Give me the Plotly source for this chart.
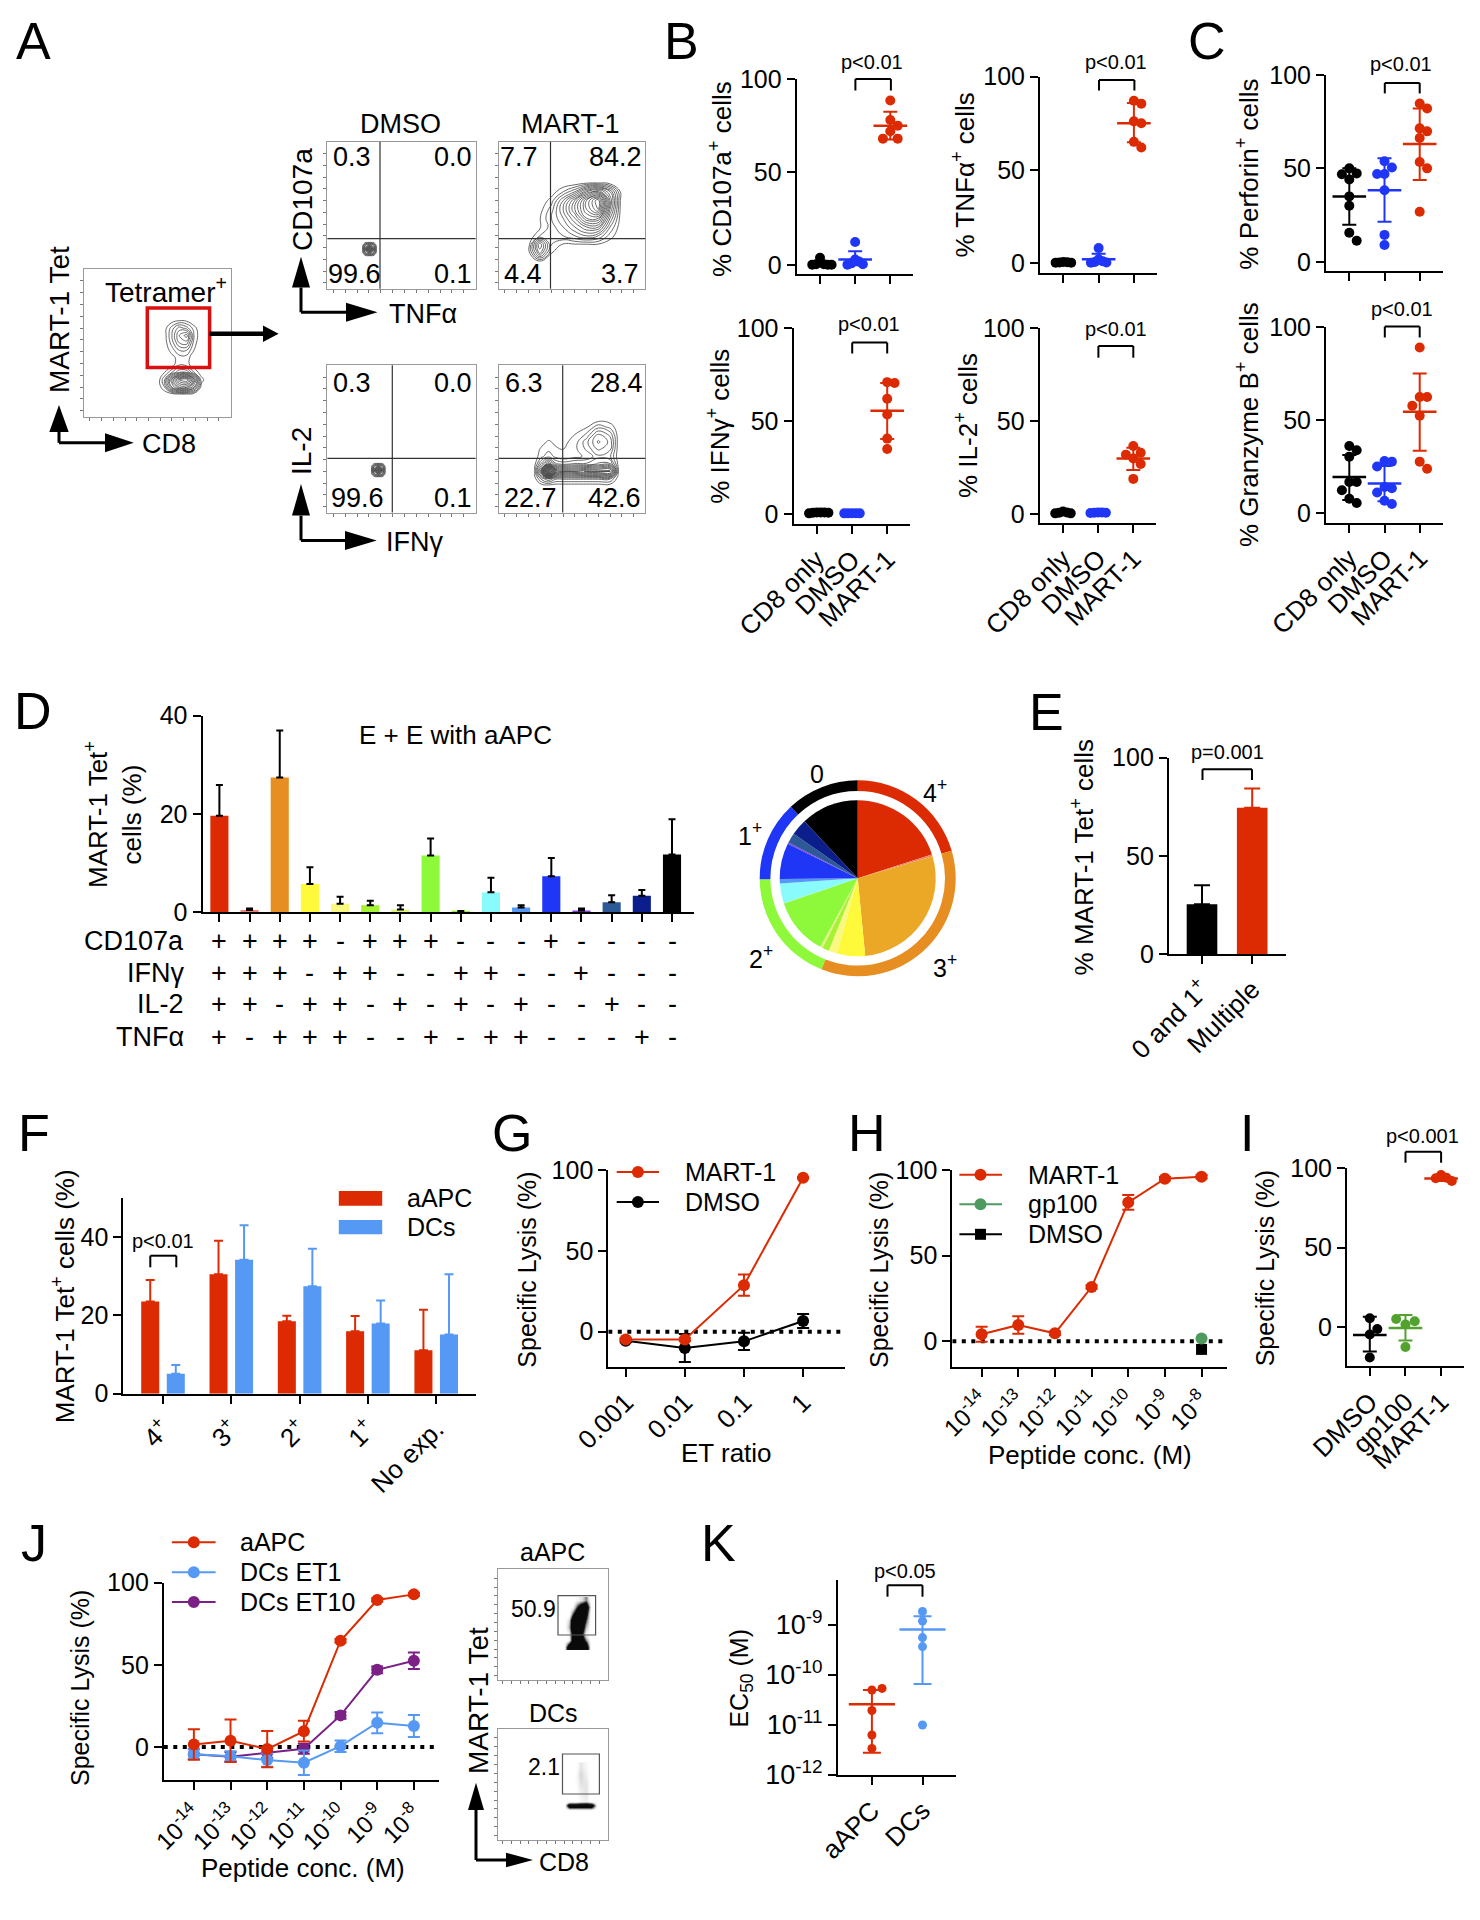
import math
import plotly.graph_objects as go

W, H = 1480, 1920
FONT = "Liberation Sans"
RED, BLUE, BLK = "#DC2B02", "#2036F7", "#000000"
SKY, PUR, GRN, LGRN = "#5599F5", "#7B2185", "#4E9A5F", "#52A22E"

# ---- B / C dot plots
CATS = ["CD8 only", "DMSO", "MART-1"]
b1_black = [4, 0.5, 0.5, 0.3, 0.3, 0.2]
b1_blue = [12.5, 3, 2, 1, 0.5, 0.3]
b1_red = [88.5, 78, 75, 72, 68, 68]
b2_black = [0.5, 0.4, 0.3, 0.2, 0.2]
b2_blue = [8, 2, 1, 0.5, 0.3, 0.2]
b2_red = [87, 85.5, 76, 75, 65, 62]
b3_black = [1, 1, 0.8, 1, 0.5, 0.8]
b3_blue = [0.6, 0.6, 0.5, 0.5, 0.5]
b3_red = [70.9, 70.4, 62, 53.5, 40.6, 35]
b4_black = [1.5, 1, 0.8, 0.5, 0.5]
b4_blue = [1, 1, 0.8, 0.8, 0.7]
b4_red = [36.6, 33, 32, 30, 27, 19]
c1_black = [50, 47.3, 46.8, 44, 35, 30, 15.5, 11.3]
c1_blue = [53.8, 50.5, 47, 47, 38.3, 14.4, 9]
c1_red = [84.7, 82, 71.4, 69.8, 66.2, 53.4, 50, 26.8]
c2_black = [36, 33.7, 30.3, 16.7, 16.7, 12.2, 7.7, 5.4]
c2_blue = [28, 27.6, 25, 14, 13.3, 11, 6.6, 4.8]
c2_red = [89, 62.4, 62.4, 57.7, 52.3, 27.6, 23.8]

# ---- D / pie
d_values = [19.6, 0.4, 27.4, 5.7, 1.7, 1.4, 0.5, 11.5, 0.1, 4, 0.9, 7.3, 0.3, 2, 3.3, 11.7]
d_tops = [25.9, 0.7, 37, 9.1, 3.1, 2.3, 1.4, 15, 0.2, 7, 1.4, 11, 0.7, 3.4, 4.5, 18.9]
d_colors = ["#DC2B02", "#F08070", "#E68E22", "#FFF93C", "#F9F880", "#A6F237", "#DDF57A", "#8DF93A",
            "#97F03A", "#8AFBFD", "#5698F5", "#2036F7", "#8040E0", "#2D5A96", "#0C1E8C", "#000000"]
pie_colors = ["#DC2B02", "#F08070", "#EBA827", "#FFF93C", "#F9F880", "#A6F237", "#DDF57A", "#8DF93A",
              "#97F03A", "#8AFBFD", "#5698F5", "#2036F7", "#8040E0", "#2D5A96", "#0C1E8C", "#000000"]
ring_values = [20, 34.8, 18.4, 12.9, 11.7]
ring_colors = ["#DC2B02", "#E68E22", "#8DF93A", "#2036F7", "#000000"]
d_rows = {"CD107a": "++++-+++--" + "-+----",
          "IFN\u03b3": "+++-++--++" + "--+---",
          "IL-2": "++-++-+-+-" + "+--+--",
          "TNF\u03b1": "+-+++--+-+" + "+---+-"}

# ---- E
e_cats = ["0 and 1<sup>+</sup>", "Multiple"]
e_vals = [25.3, 74.5]
e_tops = [35, 84.3]

# ---- F
f_cats = ["4<sup>+</sup>", "3<sup>+</sup>", "2<sup>+</sup>", "1<sup>+</sup>", "No exp."]
f_aapc = [23.5, 30.5, 18.5, 15.9, 11.1]
f_aapc_top = [29, 39, 19.9, 19.8, 21.4]
f_dcs = [5.1, 34.2, 27.4, 17.9, 15.1]
f_dcs_top = [7.3, 43, 37, 23.8, 30.5]

# ---- G
g_x = [0.001, 0.01, 0.1, 1]
g_mart = [-4.8, -4.8, 28.8, 95.4]
g_mart_err = [1, 1, 6.6, 0.5]
g_dmso = [-5.6, -10.1, -6, 6.6]
g_dmso_err = [1, 8.7, 5.4, 4.4]

# ---- H / J
conc = [1e-14, 1e-13, 1e-12, 1e-11, 1e-10, 1e-9, 1e-8]
conc_lbl = ["10<sup>-14</sup>", "10<sup>-13</sup>", "10<sup>-12</sup>", "10<sup>-11</sup>",
            "10<sup>-10</sup>", "10<sup>-9</sup>", "10<sup>-8</sup>"]
h_mart = [4.1, 9.5, 4.7, 31.7, 81.1, 94.9, 96.1]
h_mart_err = [4.4, 5.1, 1, 1, 4.3, 1, 1]
h_gp100 = [1.6]
h_dmso = [-4.7]
j_aapc = [1.6, 3.9, -1.2, 9.7, 64.7, 89.5, 92.9]
j_aapc_err = [9.3, 12.9, 11, 6.3, 1, 1, 1]
j_et1 = [-4.3, -5.5, -7.9, -9.5, 0.6, 14.8, 12.8]
j_et1_err = [3, 3, 4, 7.5, 3.5, 6.3, 6.7]
j_et10 = [-4.3, -5.9, -3.4, -1, 19.3, 47, 52.5]
j_et10_err = [3, 3, 3, 3, 2, 2, 5]

# ---- I
i_cats = ["DMSO", "gp100", "MART-1"]
i_black = [5.5, -4.8, -1.3, -19.3]
i_green = [1.5, 3.6, 5, -12.6]
i_red = [95.8, 94, 93.7, 92]

# ---- K
k_cats = ["aAPC", "DCs"]
k_aapc = [5e-11, 5.4e-11, 1.95e-11, 6.3e-12, 3.4e-12]
k_dcs = [1.86e-9, 1.2e-9, 5.6e-10, 3.7e-10, 1e-11]

# ---- flow density grids
fa_x = [50, 55, 60, 65, 70, 75, 80, 85]
fa_y = [10, 15, 20, 25, 30, 35, 40, 45, 50, 55, 60, 65, 70]
fa_z = [[0, 0, 0, 0, 0, 0, 0, 0], [0, 0, 0, 0.3, 0.3, 0, 0, 0], [0, 2, 7, 10, 10, 6, 0.5, 0],
        [0, 3, 9, 14, 15, 9, 1.5, 0], [0, 1, 3, 5, 5, 2, 0.3, 0], [0, 0, 0.5, 2, 1.5, 0.3, 0, 0],
        [0, 0, 0.6, 1.5, 1.5, 0.3, 0, 0], [0, 0.2, 1.5, 3, 3, 1, 0, 0], [0, 0.4, 2.5, 5, 5.5, 1.5, 0, 0],
        [0, 0.5, 3, 6, 7.5, 2, 0, 0], [0, 0.5, 2.5, 4.5, 3.5, 1.5, 0, 0], [0, 0, 0.5, 1, 0.8, 0, 0, 0],
        [0, 0, 0, 0, 0, 0, 0, 0]]
dot_x1 = [23.4, 25.9, 28.4, 30.9, 33.4]
dot_y1 = [22, 24.5, 27, 29.5, 32]
dot_x2 = [29.4, 31.9, 34.4, 36.9, 39.4]
dot_y2 = [23.9, 26.4, 28.9, 31.4, 33.9]
dot_z = [[0, 0, 0, 0, 0], [0, 5, 7, 5, 0], [0, 7, 16, 7, 0], [0, 5, 7, 5, 0], [0, 0, 0, 0, 0]]
fm1_x = [20, 28, 36, 44, 52, 60, 68, 76, 84]
fm1_y = [18, 24, 30, 36, 42, 48, 54, 60, 66, 72, 78]
fm1_z = [[0, 0.2, 0, 0, 0, 0, 0, 0, 0], [0, 6, 1, 0, 0, 0, 0, 0, 0], [0, 8, 2, 0.8, 0.8, 0.8, 0.8, 0.3, 0],
         [0, 2, 2.5, 3, 4, 5, 4, 1.5, 0], [0, 0.8, 2.5, 4, 6, 8, 8, 3, 0], [0, 0.9, 3, 5, 8, 12, 12, 5, 0],
         [0, 0.5, 2.5, 6, 10, 14, 17, 7, 0], [0, 0, 1.5, 5, 9, 14, 18, 8, 0], [0, 0, 0.3, 2, 4, 8, 10, 6, 0.3],
         [0, 0, 0, 0, 0.2, 0.8, 0.9, 0.4, 0], [0, 0, 0, 0, 0, 0, 0, 0, 0]]
fm2_x = [24, 29, 34, 39, 44, 52, 60, 68, 76, 82]
fm2_y = [18, 23, 28, 33, 38, 43, 48, 53, 58, 63, 68]
fm2_z = [[0, 0, 0, 0, 0, 0, 0, 0, 0, 0], [0, 3, 5, 3, 3, 3, 3, 3, 3, 0], [0.5, 8, 25, 12, 11, 11, 12, 12, 12, 0.5],
         [0, 4, 8, 4, 3.5, 4, 4, 5, 5, 0.2], [0, 1.5, 2.5, 1.5, 1, 1.5, 2, 3.5, 3, 0],
         [0, 1, 1.5, 1, 0.8, 1.5, 3, 5, 4, 0], [0, 0.3, 1, 0.5, 0.5, 1.2, 3.5, 6, 4.5, 0],
         [0, 0, 0, 0, 0.2, 0.8, 2, 5, 3.5, 0], [0, 0, 0, 0, 0, 0.1, 0.7, 2.5, 1.5, 0],
         [0, 0, 0, 0, 0, 0, 0, 0.3, 0.2, 0], [0, 0, 0, 0, 0, 0, 0, 0, 0, 0]]
ja_x = [60, 64, 68, 72, 76, 80, 84]
ja_y = [30, 36, 42, 48, 54, 60, 66, 72]
ja_z = [[0, 0.9, 1, 1, 1, 0.9, 0], [0, 0.1, 0.8, 0.9, 0.8, 0.4, 0], [0, 0.1, 0.8, 0.9, 0.6, 0.1, 0],
        [0, 0.3, 0.9, 1, 0.8, 0.3, 0], [0, 0.2, 0.9, 1, 0.9, 0.5, 0], [0, 0, 0.5, 0.9, 1, 0.7, 0],
        [0, 0, 0.1, 0.5, 0.9, 0.9, 0.1], [0, 0, 0, 0.1, 0.2, 0.4, 0]]
jd_x = [60, 65, 70, 75, 80, 85, 90]
jd_y = [27, 31, 35, 42, 50, 58, 66]
jd_z = [[0, 0, 0, 0, 0, 0, 0], [0, 1, 1, 1, 1, 1, 0], [0, 0, 0, 0.1, 0.15, 0, 0], [0, 0, 0, 0.15, 0.2, 0, 0],
        [0, 0, 0.05, 0.2, 0.2, 0, 0], [0, 0, 0.05, 0.25, 0.15, 0, 0], [0, 0, 0, 0.2, 0.1, 0, 0]]

fig = go.Figure()
layout = {}
annos, shapes = [], []
n_ax = [0]
XF = dict(family=FONT, size=26, color="black")


def fx(x):
    return x / W


def fy(y):
    return 1 - y / H


def panel(x0, y0, x1, y1, xr, yr, xkw=None, ykw=None):
    n_ax[0] += 1
    k = n_ax[0]
    base = dict(showgrid=False, zeroline=False, showline=True, linecolor="black", linewidth=2, automargin=False,
                ticks="outside", ticklen=8, tickwidth=2, tickcolor="black",
                tickfont=dict(family=FONT, size=25, color="black"))
    xa = dict(base, domain=[fx(x0), fx(x1)], range=xr, anchor=f"y{k}", tickfont=XF)
    ya = dict(base, domain=[fy(y1), fy(y0)], range=yr, anchor=f"x{k}")
    xa.update(xkw or {})
    ya.update(ykw or {})
    layout[f"xaxis{k}"] = xa
    layout[f"yaxis{k}"] = ya
    return f"x{k}", f"y{k}"


def text(x, y, s, size=25, angle=0, anchor="center", color="black"):
    annos.append(dict(x=fx(x), y=fy(y), xref="paper", yref="paper", text=s, showarrow=False,
                      xanchor=anchor, yanchor="middle", textangle=angle,
                      font=dict(family=FONT, size=size, color=color)))


def seg(x0, y0, x1, y1, w=2, color="black"):
    shapes.append(dict(type="line", xref="paper", yref="paper", x0=fx(x0), y0=fy(y0), x1=fx(x1), y1=fy(y1),
                       line=dict(color=color, width=w)))


def rect(x0, y0, x1, y1, w=1.5, color="black", fill=None):
    shapes.append(dict(type="rect", xref="paper", yref="paper", x0=fx(x0), y0=fy(y0), x1=fx(x1), y1=fy(y1),
                       line=dict(color=color, width=w), fillcolor=fill or "rgba(0,0,0,0)"))


def tri(pts, color="black"):
    p = "M " + " L ".join(f"{fx(a):.5f} {fy(b):.5f}" for a, b in pts) + " Z"
    shapes.append(dict(type="path", xref="paper", yref="paper", path=p, fillcolor=color, line=dict(width=0)))


def bracket(x0, x1, ytop, ybot, label, ylabel, xlabel=None, size=20):
    seg(x0, ybot, x0, ytop)
    seg(x0, ytop, x1, ytop)
    seg(x1, ytop, x1, ybot)
    text(xlabel if xlabel else (x0 + x1) / 2, ylabel, label, size=size)


def corner_arrows(cx, cy, vtip, vbase, hw, htip, hbase, hh):
    seg(cx, cy, cx, vbase, 3)
    seg(cx, cy, hbase, cy, 3)
    tri([(cx - hw, vbase), (cx + hw, vbase), (cx, vtip)])
    tri([(hbase, cy - hh), (hbase, cy + hh), (htip, cy)])


def swarm(vals, gap, step):
    placed, out = [], []
    for v in vals:
        for k in range(0, 9):
            off = 0 if k == 0 else ((k + 1) // 2) * step * (1 if k % 2 else -1)
            if all(abs(v - pv) >= gap or abs(off - po) > 0.01 for pv, po in placed):
                break
        placed.append((v, off))
        out.append(off)
    return out


def dots(ax, i, vals, stat, color, gap=5, step=0.21, capw=7, meanw=24, msize=10, logy=False):
    xa, ya = ax
    off = swarm([math.log10(v) for v in vals] if logy else vals, gap, step)
    fig.add_trace(go.Scatter(x=[i + o for o in off], y=vals, mode="markers", xaxis=xa, yaxis=ya, cliponaxis=False,
                             marker=dict(color=color, size=msize), showlegend=False, hoverinfo="skip"))
    if stat is None:
        return
    mean, lo, hi = stat
    fig.add_trace(go.Scatter(x=[i], y=[mean], mode="markers", xaxis=xa, yaxis=ya, cliponaxis=False, showlegend=False,
                             marker=dict(symbol="line-ew", size=meanw, line=dict(color=color, width=2.5)),
                             error_y=dict(type="data", symmetric=False, array=[hi - mean], arrayminus=[mean - lo],
                                          color=color, thickness=2, width=capw), hoverinfo="skip"))


def three_groups(ax, black, blue, red, stats, low=False):
    kw = dict(gap=5, step=0.11) if low else dict()
    dots(ax, 0, black, stats[0], BLK, **kw)
    dots(ax, 1, blue, stats[1], BLUE, **kw)
    dots(ax, 2, red, stats[2], RED)


def dot_axes(x0, xt0, xt2, xend, y100, y0, ybot, labels):
    sp = (xt2 - xt0) / 2
    xr = [(x0 - xt0) / sp, (xend - xt0) / sp]
    yr = [-(ybot - y0) / ((y0 - y100) / 100), 100]
    xkw = dict(tickvals=[0, 1, 2], ticktext=CATS, tickangle=-45, showticklabels=labels)
    ykw = dict(tickvals=[0, 50, 100])
    return panel(x0, y100, xend, ybot, xr, yr, xkw, ykw)


# ================= PANEL A
def flow(x0, y0, x1, y1):
    tv = list(range(4, 100, 8))
    k = dict(showline=True, mirror=True, linecolor="#999999", linewidth=1, ticks="outside", ticklen=3, tickwidth=1,
             tickcolor="#777777", tickvals=tv, showticklabels=False)
    return panel(x0, y0, x1, y1, [0, 100], [0, 100], dict(k), dict(k))


def contour(ax, x, y, z, size=1.0, start=1.0, end=30.0, color="#444444"):
    fig.add_trace(go.Contour(x=x, y=y, z=z, xaxis=ax[0], yaxis=ax[1], showscale=False, hoverinfo="skip",
                             contours=dict(coloring="none", start=start, end=end, size=size),
                             line=dict(color=color, width=0.8, smoothing=1.3)))


a0 = flow(84, 269, 230.6, 416.7)
contour(a0, fa_x, fa_y, fa_z)
rect(147.3, 308, 209.6, 367.4, 3.5, "#DA0F0F")
text(166, 289.6, "Tetramer<sup>+</sup>", 28)
seg(209.6, 333.8, 264, 333.8, 4.5)
tri([(263, 325.5), (263, 342), (278.6, 333.8)])
corner_arrows(59, 442.8, 405, 432, 9.7, 133.8, 105, 9.5)
text(60, 320, "MART-1 Tet", 28, -90)
text(169, 444, "CD8", 27)

a1 = flow(327.4, 141.8, 475.6, 288.7)
contour(a1, dot_x1, dot_y1, dot_z)
a2 = flow(498.7, 141.8, 645.2, 288.7)
contour(a2, fm1_x, fm1_y, fm1_z)
a3 = flow(327.4, 365.3, 475.6, 512.6)
contour(a3, dot_x2, dot_y2, dot_z)
a4 = flow(498.7, 365.3, 645.2, 512.6)
contour(a4, fm2_x, fm2_y, fm2_z, start=0.8)
for x0, x1, vx, y0, y1, hy in [(327.4, 475.6, 380, 141.8, 288.7, 238.6), (498.7, 645.2, 550.5, 141.8, 288.7, 238.6),
                               (327.4, 475.6, 392.3, 365.3, 512.6, 458.3), (498.7, 645.2, 562.7, 365.3, 512.6, 458.3)]:
    seg(vx, y0, vx, y1, 1.2, "#333333")
    seg(x0, hy, x1, hy, 1.2, "#333333")
text(400, 124, "DMSO", 27)
text(570.3, 124, "MART-1", 27)
for x, y, s in [(352, 157, "0.3"), (453, 157, "0.0"), (354.8, 274.4, "99.6"), (453, 274.4, "0.1"),
                (519, 157, "7.7"), (615.3, 157, "84.2"), (523, 274.4, "4.4"), (620.4, 274.4, "3.7"),
                (351.9, 383, "0.3"), (452.9, 383, "0.0"), (357.8, 497.9, "99.6"), (453, 497.9, "0.1"),
                (524.4, 383, "6.3"), (616.6, 383, "28.4"), (530.3, 497.9, "22.7"), (614.5, 497.9, "42.6")]:
    text(x, y, s, 27)
corner_arrows(301, 312.3, 256.7, 287.5, 9, 377.5, 346, 9.5)
corner_arrows(301, 540.4, 484, 515.6, 9, 376.7, 345, 9.5)
text(423, 314.4, "TNF\u03b1", 27)
text(303, 200, "CD107a", 28, -90)
text(414.6, 541.7, "IFN\u03b3", 27)
text(302, 451, "IL-2", 28, -90)

# ================= PANEL B / C
b1 = dot_axes(796.6, 820, 890.3, 913, 79.1, 265.2, 274.4, False)
three_groups(b1, b1_black, b1_blue, b1_red, [None, (3, 0, 7.5), (75, 67.5, 82.5)], low=True)
b2 = dot_axes(1040, 1063.4, 1133.9, 1157, 76.6, 263, 272.7, False)
three_groups(b2, b2_black, b2_blue, b2_red, [None, (2, 0, 5), (75, 64.8, 85.8)], low=True)
b3 = dot_axes(793.5, 816.8, 887.2, 910, 327.9, 514.3, 524, True)
three_groups(b3, b3_black, b3_blue, b3_red, [None, None, (55.5, 40.4, 70.5)], low=True)
b4 = dot_axes(1039.6, 1063, 1133.3, 1156, 327.9, 514.3, 523.1, True)
three_groups(b4, b4_black, b4_blue, b4_red, [None, None, (30, 23.7, 35.7)], low=True)
c1 = dot_axes(1326, 1349.3, 1419.7, 1442.5, 74.9, 261.8, 271, False)
three_groups(c1, c1_black, c1_blue, c1_red, [(35, 19.8, 50), (38.3, 21.4, 55.4), (63, 43.7, 82)])
c2 = dot_axes(1326, 1349.3, 1419.7, 1442.5, 327, 513, 522.7, True)
three_groups(c2, c2_black, c2_blue, c2_red, [(19.4, 7, 31.2), (15.8, 6.3, 25.3), (54.5, 33.5, 75)])

bracket(855.4, 890.9, 79.1, 90.5, "p&lt;0.01", 61.9, 872.3)
bracket(1099, 1134.4, 80, 90.5, "p&lt;0.01", 61.9, 1115.9)
bracket(852.2, 887.2, 342.6, 353.5, "p&lt;0.01", 324.5, 869.2)
bracket(1098.4, 1133.3, 346, 357.7, "p&lt;0.01", 328.7, 1115.9)
bracket(1384.8, 1419.7, 82.9, 93.4, "p&lt;0.01", 64.4, 1401)
bracket(1384.8, 1419.7, 326.6, 337.5, "p&lt;0.01", 309.3, 1401.7)
text(721, 178.9, "% CD107a<sup>+</sup> cells", 26, -90)
text(964, 175.5, "% TNF\u03b1<sup>+</sup> cells", 26, -90)
text(717.8, 426, "% IFN\u03b3<sup>+</sup> cells", 26, -90)
text(966, 426, "% IL-2<sup>+</sup> cells", 26, -90)
text(1248, 174.7, "% Perforin<sup>+</sup> cells", 26, -90)
text(1248, 425, "% Granzyme B<sup>+</sup> cells", 26, -90)

# ================= PANEL D
sp = (672 - 219.4) / 15
d = panel(202.5, 715.7, 693.7, 912, [(202.5 - 219.4) / sp, (693.7 - 219.4) / sp], [0, 40],
          dict(tickvals=list(range(16)), showticklabels=False), dict(tickvals=[0, 20, 40]))
fig.add_trace(go.Bar(x=list(range(16)), y=d_values, xaxis=d[0], yaxis=d[1], width=0.6, showlegend=False,
                     marker=dict(color=d_colors, line=dict(width=0)), hoverinfo="skip", cliponaxis=False,
                     error_y=dict(type="data", symmetric=False, array=[t - v for t, v in zip(d_tops, d_values)],
                                  arrayminus=[0] * 16, color="black", thickness=2, width=3.5)))
for row_y, (name, signs) in zip([940.7, 972.7, 1004.3, 1036.7], d_rows.items()):
    text(186.4, row_y, name, 27, anchor="right")
    for i, ch in enumerate(signs):
        annos.append(dict(x=i, y=fy(row_y), xref=d[0], yref="paper", text=ch, showarrow=False, xanchor="center",
                          yanchor="middle", font=dict(family=FONT, size=27, color="black")))
text(455.4, 735, "E + E with aAPC", 26)
text(113, 815, "MART-1 Tet<sup>+</sup><br>cells (%)", 26, -90)

# pie
cx, cy = 857.7, 878.3
fig.add_trace(go.Pie(values=ring_values, marker=dict(colors=ring_colors, line=dict(width=0)), sort=False,
                     direction="clockwise", rotation=0, hole=0.891, textinfo="none", hoverinfo="skip",
                     showlegend=False, domain=dict(x=[fx(cx - 98), fx(cx + 98)], y=[fy(cy + 98), fy(cy - 98)])))
fig.add_trace(go.Pie(values=d_values, marker=dict(colors=pie_colors, line=dict(width=0)), sort=False,
                     direction="clockwise", rotation=0, textinfo="none", hoverinfo="skip", showlegend=False,
                     domain=dict(x=[fx(cx - 78), fx(cx + 78)], y=[fy(cy + 78), fy(cy - 78)])))
for x, y, s in [(816.7, 774, "0"), (935.4, 790.7, "4<sup>+</sup>"), (749.8, 834, "1<sup>+</sup>"),
                (760.5, 956.7, "2<sup>+</sup>"), (945, 966, "3<sup>+</sup>")]:
    text(x, y, s, 25)

# ================= PANEL E
sp = 1252.2 - 1202
e = panel(1168.8, 757.7, 1285.5, 954, [(1168.8 - 1202) / sp, (1285.5 - 1202) / sp], [0, 100],
          dict(tickvals=[0, 1], ticktext=e_cats, tickangle=-45), dict(tickvals=[0, 50, 100]))
for i, col in enumerate([BLK, RED]):
    fig.add_trace(go.Bar(x=[i], y=[e_vals[i]], xaxis=e[0], yaxis=e[1], width=0.61, showlegend=False,
                         marker=dict(color=col, line=dict(width=0)), hoverinfo="skip", cliponaxis=False,
                         error_y=dict(type="data", symmetric=False, array=[e_tops[i] - e_vals[i]], arrayminus=[0],
                                      color=col, thickness=2, width=8)))
bracket(1202.5, 1252, 769.3, 780, "p=0.001", 751.7, 1227.4)
text(1082.7, 856.7, "% MART-1 Tet<sup>+</sup> cells", 26, -90)

# ================= PANEL F
sp = 68.3
f = panel(123.3, 1197.7, 476.4, 1393.7, [(123.3 - 163) / sp, (476.4 - 163) / sp], [0, 50],
          dict(tickvals=list(range(5)), ticktext=f_cats, tickangle=-45), dict(tickvals=[0, 20, 40]))
for vals, tops, col, off in [(f_aapc, f_aapc_top, RED, -0.319), (f_dcs, f_dcs_top, SKY, 0.055)]:
    fig.add_trace(go.Bar(x=list(range(5)), y=vals, xaxis=f[0], yaxis=f[1], width=0.264, offset=off, showlegend=False,
                         marker=dict(color=col, line=dict(width=0)), hoverinfo="skip", cliponaxis=False,
                         error_y=dict(type="data", symmetric=False, array=[t - v for t, v in zip(tops, vals)],
                                      arrayminus=[0] * 5, color=col, thickness=2, width=4.5)))
rect(338.8, 1191, 382.2, 1205.7, 0, RED, RED)
rect(338.8, 1220, 382.2, 1234.3, 0, SKY, SKY)
text(405, 1198, "aAPC", 25, anchor="left")
text(405, 1227.3, "DCs", 25, anchor="left")
bracket(150.3, 176.3, 1255.7, 1267.3, "p&lt;0.01", 1240.7, 163)
text(63.5, 1296.7, "MART-1 Tet<sup>+</sup> cells (%)", 26, -90)


def zero_line(ax, x0, x1):
    fig.add_trace(go.Scatter(x=[x0, x1], y=[0, 0], mode="lines", xaxis=ax[0], yaxis=ax[1], showlegend=False,
                             hoverinfo="skip", line=dict(color="black", width=4, dash="4px,5.5px")))


def curve(ax, x, y, err, col, size=12):
    fig.add_trace(go.Scatter(x=x, y=y, mode="lines+markers", xaxis=ax[0], yaxis=ax[1], showlegend=False,
                             hoverinfo="skip", cliponaxis=False, line=dict(color=col, width=2),
                             marker=dict(color=col, size=size),
                             error_y=dict(type="data", array=err, color=col, thickness=2, width=6)))


def leg(x0, x1, xm, y, col, label, xt, symbol="circle"):
    seg(x0, y, x1, y, 2, col)
    if symbol == "circle":
        shapes.append(dict(type="circle", xref="paper", yref="paper", x0=fx(xm - 6), x1=fx(xm + 6), y0=fy(y - 6),
                           y1=fy(y + 6), fillcolor=col, line=dict(width=0)))
    else:
        rect(xm - 5.5, y - 5.5, xm + 5.5, y + 5.5, 0, col, col)
    text(xt, y, label, 25, anchor="left")


LOGT = dict(type="log", ticktext=conc_lbl, tickvals=conc, tickangle=-45,
            tickfont=dict(family=FONT, size=24, color="black"))
TICK100 = dict(tickvals=[0, 50, 100])

# ================= PANEL G
g = panel(608.3, 1170.3, 844.5, 1367, [-3.294, 0.70], [-21.9, 100],
          dict(type="log", tickvals=g_x, ticktext=["0.001", "0.01", "0.1", "1"], tickangle=-45), TICK100)
zero_line(g, 10 ** -3.294, 10 ** 0.70)
curve(g, g_x, g_dmso, g_dmso_err, BLK)
curve(g, g_x, g_mart, g_mart_err, RED)
leg(616.7, 659, 637.9, 1172, RED, "MART-1", 683)
leg(616.7, 659, 637.9, 1202, BLK, "DMSO", 683)
text(726.3, 1452.7, "ET ratio", 26)
text(526.7, 1270, "Specific Lysis (%)", 25, -90)

# ================= PANEL H
h = panel(952.3, 1170, 1227.2, 1366.7, [-14.8, -7.3], [-14.8, 100], LOGT, TICK100)
zero_line(h, 10 ** -14.8, 10 ** -7.3)
curve(h, conc, h_mart, h_mart_err, RED)
fig.add_trace(go.Scatter(x=conc[-1:], y=h_dmso, mode="markers", xaxis=h[0], yaxis=h[1], showlegend=False,
                         hoverinfo="skip", cliponaxis=False, marker=dict(color=BLK, size=11, symbol="square")))
fig.add_trace(go.Scatter(x=conc[-1:], y=h_gp100, mode="markers", xaxis=h[0], yaxis=h[1], showlegend=False,
                         hoverinfo="skip", cliponaxis=False, marker=dict(color=GRN, size=12)))
leg(959.4, 1002, 980.5, 1174.7, RED, "MART-1", 1025.7)
leg(959.4, 1002, 980.5, 1204.3, GRN, "gp100", 1025.7)
leg(959.4, 1002, 980.5, 1234.3, BLK, "DMSO", 1025.7, "square")
text(1090.4, 1455, "Peptide conc. (M)", 26)
text(879, 1270, "Specific Lysis (%)", 25, -90)

# ================= PANEL I
sp = 35.65
i_ax = panel(1347, 1168.3, 1464.3, 1366.3, [(1347 - 1369.8) / sp, (1464.3 - 1369.8) / sp], [-24.8, 100],
             dict(tickvals=[0, 1, 2], ticktext=i_cats, tickangle=-45), TICK100)
dots(i_ax, 0, i_black, (-5, -15.5, 6.5), BLK, gap=6)
dots(i_ax, 1, i_green, (-0.6, -8.6, 7.6), LGRN, gap=6, step=0.26)
dots(i_ax, 2, i_red, (93.5, 92, 95), RED, gap=6, step=0.15)
bracket(1405.5, 1441.1, 1151.7, 1162.7, "p&lt;0.001", 1136, 1422.9)
text(1265.3, 1268, "Specific Lysis (%)", 25, -90)

# ================= PANEL J
j = panel(163.8, 1582.7, 438.8, 1780, [-14.82, -7.32], [-20, 100], LOGT, TICK100)
zero_line(j, 10 ** -14.82, 10 ** -7.32)
curve(j, conc, j_et10, j_et10_err, PUR)
curve(j, conc, j_et1, j_et1_err, SKY)
curve(j, conc, j_aapc, j_aapc_err, RED)
leg(171.9, 215.6, 193.8, 1542.3, RED, "aAPC", 238)
leg(171.9, 215.6, 193.8, 1572.3, SKY, "DCs ET1", 238)
leg(171.9, 215.6, 193.8, 1602, PUR, "DCs ET10", 238)
text(302.5, 1868.3, "Peptide conc. (M)", 26)
text(80, 1688, "Specific Lysis (%)", 25, -90)


def dotcloud(ax, x, y, z, zmax=1.0):
    fig.add_trace(go.Heatmap(x=x, y=y, z=z, xaxis=ax[0], yaxis=ax[1], showscale=False, hoverinfo="skip",
                             zmin=0, zmax=zmax, zsmooth="best",
                             colorscale=[[0, "rgba(255,255,255,0)"], [1, "rgba(10,10,10,1)"]]))


jf1 = flow(498, 1569.3, 608, 1680)
dotcloud(jf1, ja_x, ja_y, ja_z, 0.55)
jf2 = flow(498, 1729, 608, 1840)
dotcloud(jf2, jd_x, jd_y, jd_z, 0.6)
rect(558, 1595.7, 595.6, 1635, 1.2, "#555555")
rect(562.5, 1754, 599.4, 1794, 1.2, "#555555")
text(533, 1609, "50.9", 23)
text(543.8, 1766.7, "2.1", 23)
text(552.5, 1552.3, "aAPC", 25)
text(553, 1713.3, "DCs", 25)
corner_arrows(476, 1860, 1782.7, 1810, 8, 533, 506, 7.3)
text(564, 1861.7, "CD8", 25)
text(478, 1700, "MART-1 Tet", 28, -90)

# ================= PANEL K
sp = 50.6
k_ax = panel(838, 1580, 956, 1775, [(838 - 871.9) / sp, (956 - 871.9) / sp], [-12, -8.1],
             dict(tickvals=[0, 1], ticktext=k_cats, tickangle=-45),
             dict(type="log", tickvals=[1e-12, 1e-11, 1e-10, 1e-9], tickfont=dict(family=FONT, size=27, color="black"),
                  ticktext=["10<sup>-12</sup>", "10<sup>-11</sup>", "10<sup>-10</sup>", "10<sup>-9</sup>"]))
dots(k_ax, 0, k_aapc, (2.6e-11, 2.8e-12, 5e-11), RED, gap=0.1, step=0.2, capw=9, meanw=33, msize=9, logy=True)
dots(k_ax, 1, k_dcs, (8.1e-10, 6.6e-11, 1.5e-9), SKY, gap=0.1, step=0.2, capw=9, meanw=33, msize=9, logy=True)
bracket(887.5, 922.5, 1585.3, 1596.7, "p&lt;0.05", 1570.7, 905)
text(740.6, 1678, "EC<sub>50</sub> (M)", 25, -90)

# ================= panel letters
for x, y, s in [(33.7, 41, "A"), (681.8, 41, "B"), (1207, 41, "C"), (33, 710.7, "D"), (1046.3, 711.7, "E"),
                (34.4, 1133, "F"), (512.4, 1133, "G"), (867.3, 1133, "H"), (1246.7, 1133, "I"),
                (34.4, 1543, "J"), (718.8, 1543, "K")]:
    text(x, y, s, 52)

fig.update_layout(width=W, height=H, margin=dict(l=0, r=0, t=0, b=0), autosize=False, paper_bgcolor="white",
                  plot_bgcolor="rgba(0,0,0,0)", barmode="overlay", showlegend=False, annotations=annos, shapes=shapes,
                  font=dict(family=FONT, color="black"), **layout)
fig.write_html("out.html", config={"displayModeBar": False}, post_script="document.body.style.margin='0';")
